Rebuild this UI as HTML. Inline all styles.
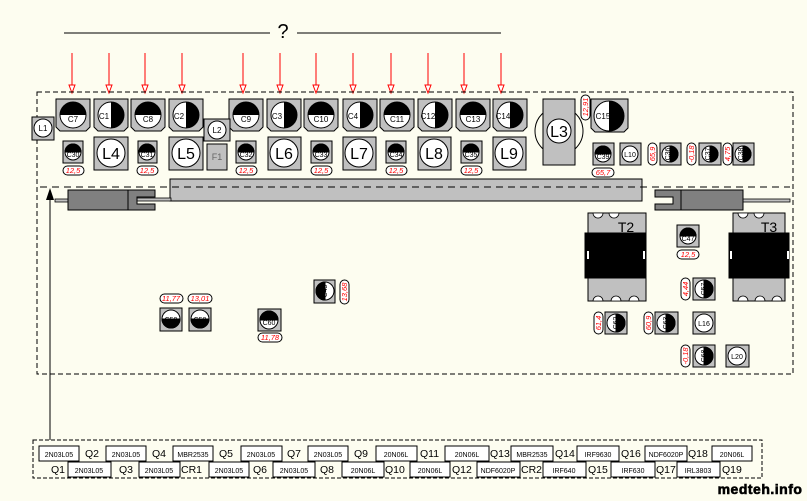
<!DOCTYPE html>
<html><head><meta charset="utf-8"><style>
html,body{margin:0;padding:0;background:#fdfdf0;}
svg{display:block}
text{font-family:"Liberation Sans",sans-serif;}
</style></head><body>
<svg width="807" height="501" viewBox="0 0 807 501" xmlns="http://www.w3.org/2000/svg">
<rect width="807" height="501" fill="#fdfdf0"/>
<!-- top line and ? -->
<line x1="64" y1="33" x2="270" y2="33" stroke="#000"/>
<line x1="297" y1="33" x2="501" y2="33" stroke="#000"/>
<text x="283" y="38" font-size="20" text-anchor="middle">?</text>
<g stroke="red" stroke-width="1">
<line x1="72" y1="53" x2="72" y2="85"/><line x1="109" y1="53" x2="109" y2="85"/>
<line x1="145" y1="53" x2="145" y2="85"/><line x1="182" y1="53" x2="182" y2="85"/>
<line x1="243" y1="53" x2="243" y2="85"/><line x1="280" y1="53" x2="280" y2="85"/>
<line x1="316" y1="53" x2="316" y2="85"/><line x1="353" y1="53" x2="353" y2="85"/>
<line x1="391" y1="53" x2="391" y2="85"/><line x1="428" y1="53" x2="428" y2="85"/>
<line x1="464" y1="53" x2="464" y2="85"/><line x1="501" y1="53" x2="501" y2="85"/>
</g>
<g stroke="red" fill="#fff" stroke-width="1">
<path d="M69,85h6l-3,8z"/><path d="M106,85h6l-3,8z"/><path d="M142,85h6l-3,8z"/><path d="M179,85h6l-3,8z"/>
<path d="M240,85h6l-3,8z"/><path d="M277,85h6l-3,8z"/><path d="M313,85h6l-3,8z"/><path d="M350,85h6l-3,8z"/>
<path d="M388,85h6l-3,8z"/><path d="M425,85h6l-3,8z"/><path d="M461,85h6l-3,8z"/><path d="M498,85h6l-3,8z"/>
</g>
<!-- dashed frame -->
<rect x="37" y="92" width="756" height="282" fill="none" stroke="#000" stroke-dasharray="5,3"/>

<g stroke="#000" fill="#c0c0c0">
<path d="M56,99h34v28l-4,4h-26l-4,-4z"/>
<path d="M94,99h34v28l-4,4h-26l-4,-4z"/>
<path d="M131,99h34v28l-4,4h-26l-4,-4z"/>
<path d="M169,99h34v28l-4,4h-26l-4,-4z"/>
<path d="M229,99h34v28l-4,4h-26l-4,-4z"/>
<path d="M267,99h34v28l-4,4h-26l-4,-4z"/>
<path d="M304,99h34v28l-4,4h-26l-4,-4z"/>
<path d="M343,99h34v28l-4,4h-26l-4,-4z"/>
<path d="M380,99h34v28l-4,4h-26l-4,-4z"/>
<path d="M418,99h34v28l-4,4h-26l-4,-4z"/>
<path d="M456,99h34v28l-4,4h-26l-4,-4z"/>
<path d="M493,99h34v28l-4,4h-26l-4,-4z"/>
<path d="M591,99h37v29l-4,4h-29l-4,-4z"/>
</g>
<g stroke="#000" fill="#fff">
<circle cx="73" cy="115" r="13"/><circle cx="111" cy="115" r="13"/><circle cx="148" cy="115" r="13"/><circle cx="186" cy="115" r="13"/>
<circle cx="246" cy="115" r="13"/><circle cx="284" cy="115" r="13"/><circle cx="321" cy="115" r="13"/><circle cx="360" cy="115" r="13"/>
<circle cx="397" cy="115" r="13"/><circle cx="435" cy="115" r="13"/><circle cx="473" cy="115" r="13"/><circle cx="510" cy="115" r="13"/>
<circle cx="609" cy="116" r="15"/>
</g>
<g fill="#000">
<path d="M60,115a13,13 0 0 1 26,0z"/>
<path d="M111,102a13,13 0 0 1 0,26z"/>
<path d="M135,115a13,13 0 0 1 26,0z"/>
<path d="M186,102a13,13 0 0 1 0,26z"/>
<path d="M233,115a13,13 0 0 1 26,0z"/>
<path d="M284,102a13,13 0 0 1 0,26z"/>
<path d="M308,115a13,13 0 0 1 26,0z"/>
<path d="M360,102a13,13 0 0 1 0,26z"/>
<path d="M384,115a13,13 0 0 1 26,0z"/>
<path d="M435,102a13,13 0 0 1 0,26z"/>
<path d="M460,115a13,13 0 0 1 26,0z"/>
<path d="M510,102a13,13 0 0 1 0,26z"/>
<path d="M609,101a15,15 0 0 1 0,30z"/>
</g>
<g font-size="8" text-anchor="middle" fill="#000">
<text x="73" y="122">C7</text><text x="104" y="119">C1</text><text x="148" y="122">C8</text><text x="179" y="119">C2</text>
<text x="246" y="122">C9</text><text x="277" y="119">C3</text><text x="321" y="122">C10</text><text x="353" y="119">C4</text>
<text x="397" y="122">C11</text><text x="428" y="119">C12</text><text x="473" y="122">C13</text><text x="503" y="119">C14</text>
<text x="603" y="119">C15</text>
</g>

<g stroke="#000">
<rect x="32" y="117" width="22" height="23" fill="#c0c0c0"/><circle cx="43" cy="128" r="9" fill="#fff"/>
<rect x="204" y="119" width="26" height="22" fill="#c0c0c0"/><circle cx="217" cy="130" r="9" fill="#fff"/>
<rect x="207" y="144" width="20" height="26" fill="#c0c0c0"/>
</g>
<g font-size="8" text-anchor="middle"><text x="43" y="131">L1</text><text x="217" y="133">L2</text><text x="217" y="160" fill="#666" font-size="9">F1</text></g>

<g stroke="#000">
<rect x="94" y="137" width="34" height="33" fill="#c0c0c0"/><circle cx="111" cy="153" r="14" fill="#fff"/>
<rect x="169" y="137" width="34" height="33" fill="#c0c0c0"/><circle cx="186" cy="153" r="14" fill="#fff"/>
<rect x="268" y="137" width="33" height="33" fill="#c0c0c0"/><circle cx="284" cy="153" r="14" fill="#fff"/>
<rect x="343" y="137" width="33" height="33" fill="#c0c0c0"/><circle cx="359" cy="153" r="14" fill="#fff"/>
<rect x="418" y="137" width="33" height="33" fill="#c0c0c0"/><circle cx="434" cy="153" r="14" fill="#fff"/>
<rect x="493" y="137" width="33" height="33" fill="#c0c0c0"/><circle cx="509" cy="153" r="14" fill="#fff"/>
<circle cx="559" cy="131" r="24" fill="none"/>
<rect x="543" y="99" width="32" height="66" fill="#c0c0c0"/><circle cx="559" cy="131" r="12" fill="#fff"/>
</g>
<g font-size="16" text-anchor="middle">
<text x="111" y="159">L4</text><text x="186" y="159">L5</text><text x="284" y="159">L6</text>
<text x="359" y="159">L7</text><text x="434" y="159">L8</text><text x="509" y="159">L9</text><text x="559" y="137">L3</text>
</g>

<g stroke="#000">
<rect x="63" y="141" width="20" height="22" fill="#c0c0c0"/><circle cx="73" cy="152" r="8" fill="#fff"/><path d="M65,152a8,8 0 0 1 16,0z" fill="#000"/>
<rect x="138" y="141" width="19" height="22" fill="#c0c0c0"/><circle cx="147" cy="152" r="8" fill="#fff"/><path d="M139,152a8,8 0 0 1 16,0z" fill="#000"/>
<rect x="236" y="141" width="20" height="22" fill="#c0c0c0"/><circle cx="246" cy="152" r="8" fill="#fff"/><path d="M238,152a8,8 0 0 1 16,0z" fill="#000"/>
<rect x="311" y="141" width="21" height="22" fill="#c0c0c0"/><circle cx="321" cy="152" r="8" fill="#fff"/><path d="M313,152a8,8 0 0 1 16,0z" fill="#000"/>
<rect x="386" y="141" width="20" height="22" fill="#c0c0c0"/><circle cx="396" cy="152" r="8" fill="#fff"/><path d="M388,152a8,8 0 0 1 16,0z" fill="#000"/>
<rect x="461" y="141" width="21" height="22" fill="#c0c0c0"/><circle cx="471" cy="152" r="8" fill="#fff"/><path d="M463,152a8,8 0 0 1 16,0z" fill="#000"/>
<rect x="593" y="143" width="21" height="22" fill="#c0c0c0"/><circle cx="603" cy="154" r="8" fill="#fff"/><path d="M595,154a8,8 0 0 1 16,0z" fill="#000"/>
<rect x="620" y="143" width="21" height="22" fill="#c0c0c0"/><circle cx="630" cy="154" r="8" fill="#fff"/>
<rect x="660" y="143" width="21" height="22" fill="#c0c0c0"/><circle cx="670" cy="154" r="8" fill="#fff"/><path d="M670,146a8,8 0 0 1 0,16z" fill="#000"/>
<rect x="699" y="143" width="22" height="22" fill="#c0c0c0"/><circle cx="710" cy="154" r="8" fill="#fff"/><path d="M710,146a8,8 0 0 1 0,16z" fill="#000"/>
<rect x="733" y="143" width="21" height="22" fill="#c0c0c0"/><circle cx="743" cy="154" r="8" fill="#fff"/><path d="M743,146a8,8 0 0 1 0,16z" fill="#000"/>
</g>
<g font-size="7" text-anchor="middle" fill="#000">
<text x="73" y="157">C30</text><text x="147" y="157">C31</text><text x="246" y="157">C32</text><text x="321" y="157">C33</text>
<text x="396" y="157">C34</text><text x="471" y="157">C35</text><text x="603" y="159">C39</text><text x="630" y="157">L10</text>
</g>
<g font-size="7" text-anchor="middle">
<text transform="translate(670,154) rotate(-90)">C36</text>
<text transform="translate(710,154) rotate(-90)">C37</text>
<text transform="translate(743,154) rotate(-90)">C38</text>
</g>
<g fill="#fff" stroke="#000">
<rect x="63" y="166" width="21" height="9" rx="4.5"/><rect x="137" y="166" width="21" height="9" rx="4.5"/>
<rect x="236" y="166" width="21" height="9" rx="4.5"/><rect x="311" y="166" width="21" height="9" rx="4.5"/>
<rect x="386" y="166" width="21" height="9" rx="4.5"/><rect x="461" y="166" width="21" height="9" rx="4.5"/>
<rect x="592" y="168" width="22" height="9" rx="4.5"/><rect x="677" y="250" width="22" height="9" rx="4.5"/>
<rect x="160" y="294" width="23" height="9" rx="4.5"/><rect x="188" y="294" width="24" height="9" rx="4.5"/>
<rect x="258" y="333" width="24" height="9" rx="4.5"/>
<rect x="581" y="95" width="9" height="25" rx="4.5"/><rect x="648" y="143" width="9" height="22" rx="4.5"/>
<rect x="687" y="143" width="9" height="22" rx="4.5"/><rect x="723" y="143" width="9" height="22" rx="4.5"/>
<rect x="340" y="280" width="9" height="24" rx="4.5"/><rect x="681" y="278" width="9" height="22" rx="4.5"/>
<rect x="594" y="312" width="9" height="22" rx="4.5"/><rect x="644" y="312" width="9" height="22" rx="4.5"/>
<rect x="681" y="345" width="9" height="22" rx="4.5"/>
</g>
<g font-size="7.5" font-style="italic" fill="red" text-anchor="middle">
<text x="73" y="173">12,5</text><text x="147" y="173">12,5</text><text x="246" y="173">12,5</text><text x="321" y="173">12,5</text>
<text x="396" y="173">12,5</text><text x="471" y="173">12,5</text><text x="603" y="175">65,7</text><text x="688" y="257">12,5</text>
<text x="171" y="301">11,77</text><text x="200" y="301">13,01</text><text x="270" y="340">11,78</text>
<text transform="translate(588,107) rotate(-90)">12,91</text>
<text transform="translate(655,154) rotate(-90)">65,9</text>
<text transform="translate(694,154) rotate(-90)">-0,18</text>
<text transform="translate(730,154) rotate(-90)">4,75</text>
<text transform="translate(347,292) rotate(-90)">13,68</text>
<text transform="translate(688,289) rotate(-90)">4,44</text>
<text transform="translate(601,323) rotate(-90)">61,4</text>
<text transform="translate(651,323) rotate(-90)">60,9</text>
<text transform="translate(688,356) rotate(-90)">-0,18</text>
</g>

<path d="M170,179H642V201H170z" fill="#c0c0c0" stroke="#000"/>
<rect x="137" y="198" width="34" height="3" fill="#c0c0c0" stroke="#000" stroke-width="0.8"/>
<rect x="55" y="199" width="13" height="3" fill="#c0c0c0" stroke="#000" stroke-width="0.8"/>
<rect x="68" y="190" width="60" height="20" fill="#808080" stroke="#000"/>
<path d="M128,190h27v7h-18v7h18v6h-27z" fill="#808080" stroke="#000"/>
<rect x="743" y="199" width="47" height="3" fill="#c0c0c0" stroke="#000" stroke-width="0.8"/>
<rect x="681" y="190" width="62" height="20" fill="#808080" stroke="#000"/>
<path d="M681,190h-26v7h18v7h-18v6h26z" fill="#808080" stroke="#000"/>
<line x1="40" y1="187" x2="790" y2="187" stroke="#000" stroke-dasharray="7,5"/>
<line x1="50" y1="440" x2="50" y2="192" stroke="#000"/>
<path d="M46,200L50,188L54,200z" fill="#000"/>

<g stroke="#000">
<rect x="588" y="213" width="58" height="88" fill="#c0c0c0"/>
<rect x="585" y="233" width="61" height="45" fill="#000"/>
<rect x="733" y="213" width="52" height="88" fill="#c0c0c0"/>
<rect x="729" y="233" width="60" height="45" fill="#000"/>
</g>
<g fill="#fff" stroke="#000" stroke-width="0.8">
<path d="M593,213a5,5 0 0 0 10,0z"/><path d="M609,213a5,5 0 0 0 10,0z"/>
<path d="M738,213a5,5 0 0 0 10,0z"/><path d="M754,213a5,5 0 0 0 10,0z"/>
<path d="M593,301a5,5 0 0 1 10,0z"/><path d="M611,301a5,5 0 0 1 10,0z"/><path d="M629,301a5,5 0 0 1 10,0z"/>
<path d="M738,301a5,5 0 0 1 10,0z"/><path d="M755,301a5,5 0 0 1 10,0z"/><path d="M772,301a5,5 0 0 1 10,0z"/>
</g>
<rect x="587" y="251" width="2" height="8" fill="#fff"/><rect x="643" y="251" width="2" height="8" fill="#fff"/>
<rect x="730" y="251" width="2" height="8" fill="#fff"/><rect x="787" y="251" width="2" height="8" fill="#fff"/>
<text x="626" y="232" font-size="14" text-anchor="middle">T2</text>
<text x="769" y="232" font-size="14" text-anchor="middle">T3</text>

<g stroke="#000">
<rect x="677" y="225" width="22" height="22" fill="#c0c0c0"/><circle cx="688" cy="236" r="8" fill="#fff"/><path d="M680,236a8,8 0 0 1 16,0z" fill="#000"/>
<rect x="160" y="308" width="22" height="23" fill="#c0c0c0"/><circle cx="171" cy="319" r="9" fill="#fff"/><path d="M162,319a9,9 0 0 0 18,0z" fill="#000"/>
<rect x="189" y="308" width="22" height="23" fill="#c0c0c0"/><circle cx="200" cy="319" r="9" fill="#fff"/><path d="M191,319a9,9 0 0 0 18,0z" fill="#000"/>
<rect x="258" y="309" width="23" height="22" fill="#c0c0c0"/><circle cx="269" cy="320" r="9" fill="#fff"/><path d="M260,320a9,9 0 0 1 18,0z" fill="#000"/>
<rect x="314" y="280" width="21" height="23" fill="#c0c0c0"/><circle cx="325" cy="291" r="9" fill="#fff"/><path d="M325,282a9,9 0 0 0 0,18z" fill="#000"/>
<rect x="693" y="278" width="22" height="22" fill="#c0c0c0"/><circle cx="704" cy="289" r="9" fill="#fff"/><path d="M704,280a9,9 0 0 1 0,18z" fill="#000"/>
<rect x="605" y="312" width="22" height="22" fill="#c0c0c0"/><circle cx="616" cy="323" r="9" fill="#fff"/><path d="M616,314a9,9 0 0 1 0,18z" fill="#000"/>
<rect x="655" y="312" width="23" height="22" fill="#c0c0c0"/><circle cx="666" cy="323" r="9" fill="#fff"/><path d="M666,314a9,9 0 0 1 0,18z" fill="#000"/>
<rect x="693" y="312" width="22" height="22" fill="#c0c0c0"/><circle cx="704" cy="323" r="9" fill="#fff"/>
<rect x="693" y="345" width="22" height="22" fill="#c0c0c0"/><circle cx="704" cy="356" r="9" fill="#fff"/><path d="M704,347a9,9 0 0 1 0,18z" fill="#000"/>
<rect x="726" y="345" width="23" height="22" fill="#c0c0c0"/><circle cx="737" cy="356" r="9" fill="#fff"/>
</g>
<g font-size="7" text-anchor="middle">
<text x="688" y="241">C47</text><text x="171" y="322">C50</text><text x="200" y="322">C58</text><text x="269" y="325">C60</text>
<text x="704" y="326">L16</text><text x="737" y="359">L20</text>
<text transform="translate(327,291) rotate(-90)">C45</text>
<text transform="translate(706,289) rotate(-90)">C57</text>
<text transform="translate(618,323) rotate(-90)">C62</text>
<text transform="translate(668,323) rotate(-90)">C63</text>
<text transform="translate(706,356) rotate(-90)">C68</text>
</g>

<rect x="33" y="440" width="729" height="38" fill="none" stroke="#000" stroke-dasharray="4,2"/>
<g fill="#fff" stroke="#000" stroke-width="1">
<rect x="39" y="446" width="40" height="15"/><rect x="106" y="446" width="40" height="15"/><rect x="173" y="446" width="40" height="15"/>
<rect x="241" y="446" width="41" height="15"/><rect x="308" y="446" width="40" height="15"/><rect x="376" y="446" width="41" height="15"/>
<rect x="445" y="446" width="44" height="15"/><rect x="511" y="446" width="42" height="15"/><rect x="577" y="446" width="42" height="15"/>
<rect x="645" y="446" width="42" height="15"/><rect x="712" y="446" width="40" height="15"/>
<rect x="68" y="462" width="43" height="15"/><rect x="139" y="462" width="41" height="15"/><rect x="209" y="462" width="40" height="15"/>
<rect x="273" y="462" width="42" height="15"/><rect x="342" y="462" width="42" height="15"/><rect x="410" y="462" width="40" height="15"/>
<rect x="477" y="462" width="43" height="15"/><rect x="543" y="462" width="43" height="15"/><rect x="611" y="462" width="44" height="15"/>
<rect x="677" y="462" width="43" height="15"/>
</g>
<g font-size="7" text-anchor="middle">
<text x="59" y="457">2N03L05</text><text x="126" y="457">2N03L05</text><text x="193" y="457">MBR2535</text>
<text x="261" y="457">2N03L05</text><text x="328" y="457">2N03L05</text><text x="396" y="457">20N06L</text>
<text x="467" y="457">20N06L</text><text x="532" y="457">MBR2535</text><text x="598" y="457">IRF9630</text>
<text x="666" y="457">NDF6020P</text><text x="732" y="457">20N06L</text>
<text x="89" y="473">2N03L05</text><text x="159" y="473">2N03L05</text><text x="229" y="473">2N03L05</text>
<text x="294" y="473">2N03L05</text><text x="363" y="473">20N06L</text><text x="430" y="473">20N06L</text>
<text x="498" y="473">NDF6020P</text><text x="564" y="473">IRF640</text><text x="633" y="473">IRF630</text>
<text x="698" y="473">IRL3803</text>
</g>
<g font-size="10.5">
<text x="85" y="457">Q2</text><text x="152" y="457">Q4</text><text x="219" y="457">Q5</text><text x="287" y="457">Q7</text>
<text x="354" y="457">Q9</text><text x="420" y="457">Q11</text><text x="490" y="457">Q13</text><text x="555" y="457">Q14</text>
<text x="621" y="457">Q16</text><text x="688" y="457">Q18</text>
<text x="51" y="473">Q1</text><text x="119" y="473">Q3</text><text x="181" y="473">CR1</text><text x="253" y="473">Q6</text>
<text x="320" y="473">Q8</text><text x="385" y="473">Q10</text><text x="452" y="473">Q12</text><text x="521" y="473">CR2</text>
<text x="588" y="473">Q15</text><text x="656" y="473">Q17</text><text x="722" y="473">Q19</text>
</g>
<text x="760" y="494" font-size="14" font-weight="bold" text-anchor="middle" fill="#000" stroke="#000" stroke-width="0.6" letter-spacing="0.5">medteh.info</text>
</svg>
</body></html>
